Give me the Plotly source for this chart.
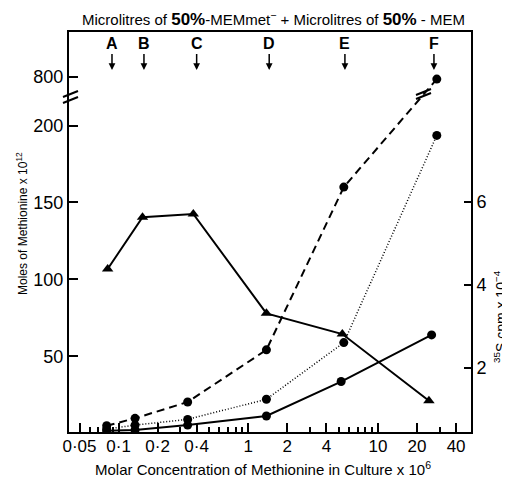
import math
import plotly.graph_objects as go

# ---------------- data ----------------
circle_x = [0.081, 0.134, 0.341, 1.38, 5.45, 28.4]
solid_circle_x = [0.081, 0.134, 0.341, 1.38, 5.2, 25.9]
triangle_x = [0.0824, 0.153, 0.377, 1.38, 5.31, 24.7]

dashed_moles = [4.9, 9.7, 20.3, 54.2, 160.0, 790.0]
dotted_moles = [2.7, 5.3, 9.0, 22.1, 58.9, 193.6]
solid_moles = [1.6, 2.1, 5.3, 11.2, 33.6, 63.9]
cpm_values = [4.38, 5.63, 5.71, 3.31, 2.81, 1.20]

arrow_labels = ["A", "B", "C", "D", "E", "F"]
arrow_x = [0.089, 0.157, 0.40, 1.45, 5.56, 27.0]

x_tickvals = [0.05, 0.1, 0.2, 0.4, 1, 2, 4, 10, 20, 40]
x_ticktext = ["0·05", "0·1", "0·2", "0·4", "1", "2", "4", "10", "20", "40"]
x_minor = [0.06, 0.07, 0.08, 0.09, 0.3, 0.5, 0.6, 0.7, 0.8, 0.9,
           3, 5, 6, 7, 8, 9, 30]
y_tickvals = [50, 100, 150, 200, 800]
y2_tickvals = [2, 4, 6]

# broken left axis: values above the break are drawn on a compressed segment
BREAK_AT = 220.0
UPPER_ANCHOR = 231.7
UPPER_SCALE = 0.15


def brk(v):
    return v if v <= BREAK_AT else UPPER_ANCHOR + (v - 800.0) * UPPER_SCALE


FONT = "Liberation Sans, Arial, Helvetica, sans-serif"

# plot area in window pixels (the page body adds an 8px offset)
OFF = 8
L, R, T, B = 69, 471, 32, 432
W, H = 510 - OFF, 477 - OFF


def px(xp):
    return (xp - L) / (R - L)


def py(yp):
    return (B - yp) / (B - T)


fig = go.Figure()

fig.add_trace(go.Scatter(
    x=circle_x, y=[brk(v) for v in dashed_moles], mode="lines+markers",
    line=dict(color="black", width=2, dash="8px,5px"),
    marker=dict(symbol="circle", size=9, color="black"), showlegend=False))

fig.add_trace(go.Scatter(
    x=circle_x, y=[brk(v) for v in dotted_moles], mode="lines+markers",
    line=dict(color="black", width=1.5, dash="1px,2px"),
    marker=dict(symbol="circle", size=9, color="black"), showlegend=False))

fig.add_trace(go.Scatter(
    x=solid_circle_x, y=solid_moles, mode="lines+markers",
    line=dict(color="black", width=2),
    marker=dict(symbol="circle", size=9, color="black"), showlegend=False))

fig.add_trace(go.Scatter(
    x=triangle_x, y=cpm_values, mode="lines+markers", yaxis="y2",
    line=dict(color="black", width=2),
    marker=dict(symbol="triangle-up", size=10, color="black"), showlegend=False))

annotations = []
for lab, xv in zip(arrow_labels, arrow_x):
    annotations.append(dict(
        x=math.log10(xv), xref="x", y=py(70), yref="paper",
        text=f"<b>{lab}</b>", showarrow=True, ax=0, ay=-26,
        arrowhead=2, arrowsize=0.9, arrowwidth=1.5, arrowcolor="black",
        font=dict(family=FONT, size=16, color="black")))

annotations.append(dict(
    x=px(273), y=py(19), xref="paper", yref="paper",
    xanchor="center", yanchor="middle", showarrow=False,
    text="Microlitres of <span style='font-size:17px'><b>50%</b></span>-MEMmet<sup>−</sup> + "
         "Microlitres of <span style='font-size:17px'><b>50%</b></span> - MEM",
    font=dict(family=FONT, size=15, color="black")))

annotations.append(dict(
    x=px(263), y=py(468), xref="paper", yref="paper",
    xanchor="center", yanchor="middle", showarrow=False,
    text="Molar Concentration of Methionine in Culture x 10<sup>6</sup>",
    font=dict(family=FONT, size=15, color="black")))

annotations.append(dict(
    x=px(22), y=py(224), xref="paper", yref="paper", textangle=-90,
    xanchor="center", yanchor="middle", showarrow=False,
    text="Moles of Methionine x 10<sup>12</sup>",
    font=dict(family=FONT, size=12, color="black")))

annotations.append(dict(
    x=px(500), y=py(317), xref="paper", yref="paper", textangle=-90,
    xanchor="center", yanchor="middle", showarrow=False,
    text="<sup>35</sup>S cpm x 10<sup>−4</sup>",
    font=dict(family=FONT, size=14, color="black")))

shapes = []
# break marks on the left axis
for dy in (-3, 3):
    shapes.append(dict(type="line", xref="paper", yref="paper",
                       x0=px(63), y0=py(100 + dy), x1=px(78), y1=py(94 + dy),
                       line=dict(color="black", width=2)))
# break marks on the dashed line
for dy in (-2, 2):
    shapes.append(dict(type="line", xref="paper", yref="paper",
                       x0=px(416), y0=py(97 + dy), x1=px(431), y1=py(91 + dy),
                       line=dict(color="black", width=2)))

fig.update_layout(
    width=W, height=H,
    margin=dict(l=L - OFF, r=510 - R, t=T - OFF, b=477 - B, pad=0),
    paper_bgcolor="white", plot_bgcolor="white",
    font=dict(family=FONT, color="black"),
    showlegend=False,
    annotations=annotations, shapes=shapes,
    xaxis=dict(
        type="log", range=[-1.382, 1.717],
        tickmode="array", tickvals=x_tickvals, ticktext=x_ticktext,
        ticks="inside", ticklen=9, tickwidth=1.5, tickcolor="black",
        minor=dict(tickmode="array", tickvals=x_minor, ticks="inside",
                   ticklen=5, tickwidth=1.5, tickcolor="black", showgrid=False),
        showline=True, linecolor="black", linewidth=2, mirror=True,
        showgrid=False, zeroline=False, ticklabelstandoff=-2,
        tickfont=dict(family=FONT, size=17, color="black")),
    yaxis=dict(
        range=[0.8, 260.8],
        tickmode="array", tickvals=[brk(v) for v in y_tickvals],
        ticktext=[str(v) for v in y_tickvals],
        ticks="inside", ticklen=9, tickwidth=1.5, tickcolor="black",
        showline=True, linecolor="black", linewidth=2,
        showgrid=False, zeroline=False, ticklabelstandoff=0,
        tickfont=dict(family=FONT, size=18, color="black")),
    yaxis2=dict(
        overlaying="y", side="right", range=[0.447, 10.10],
        tickmode="array", tickvals=y2_tickvals,
        ticktext=[str(v) for v in y2_tickvals],
        ticks="inside", ticklen=7, tickwidth=1.5, tickcolor="black",
        showline=True, linecolor="black", linewidth=2,
        showgrid=False, zeroline=False,
        tickfont=dict(family=FONT, size=18, color="black")),
)

fig.write_html("out.html")
